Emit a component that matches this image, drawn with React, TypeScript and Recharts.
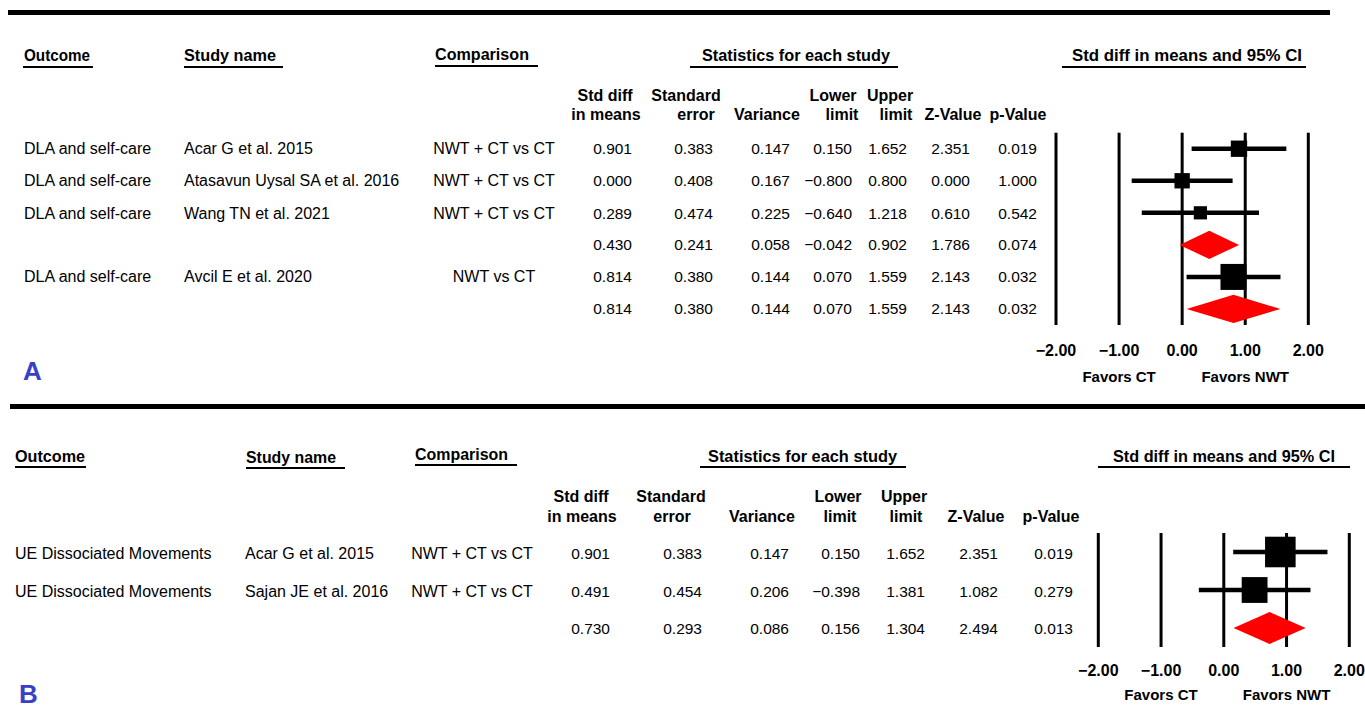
import React from 'react';
import {
  ScatterChart,
  Scatter,
  ErrorBar,
  XAxis,
  YAxis,
  ZAxis,
  ReferenceArea,
} from 'recharts';

// ---- panel A: DLA and self-care ----
const outcomesA = ['DLA and self-care', 'DLA and self-care', 'DLA and self-care', '', 'DLA and self-care', ''];
const studiesA = ['Acar G et al. 2015', 'Atasavun Uysal SA et al. 2016', 'Wang TN et al. 2021', '', 'Avcil E et al. 2020', ''];
const comparisonsA = ['NWT + CT vs CT', 'NWT + CT vs CT', 'NWT + CT vs CT', '', 'NWT vs CT', ''];
const stdDiffA = [0.901, 0.0, 0.289, 0.43, 0.814, 0.814];
const stdErrA = [0.383, 0.408, 0.474, 0.241, 0.38, 0.38];
const varianceA = [0.147, 0.167, 0.225, 0.058, 0.144, 0.144];
const lowerA = [0.15, -0.8, -0.64, -0.042, 0.07, 0.07];
const upperA = [1.652, 0.8, 1.218, 0.902, 1.559, 1.559];
const zValueA = [2.351, 0.0, 0.61, 1.786, 2.143, 2.143];
const pValueA = [0.019, 1.0, 0.542, 0.074, 0.032, 0.032];
const summaryA = [false, false, false, true, false, true];

// ---- panel B: UE dissociated movements ----
const outcomesB = ['UE Dissociated Movements', 'UE Dissociated Movements', ''];
const studiesB = ['Acar G et al. 2015', 'Sajan JE et al. 2016', ''];
const comparisonsB = ['NWT + CT vs CT', 'NWT + CT vs CT', ''];
const stdDiffB = [0.901, 0.491, 0.73];
const stdErrB = [0.383, 0.454, 0.293];
const varianceB = [0.147, 0.206, 0.086];
const lowerB = [0.15, -0.398, 0.156];
const upperB = [1.652, 1.381, 1.304];
const zValueB = [2.351, 1.082, 2.494];
const pValueB = [0.019, 0.279, 0.013];
const summaryB = [false, false, true];

// ---- labels ----
const sectionTitles = ['Outcome', 'Study name', 'Comparison', 'Statistics for each study', 'Std diff in means and 95% CI'];
const colHeadTop = ['Std diff', 'Standard', '', 'Lower', 'Upper', '', ''];
const colHeadBottom = ['in means', 'error', 'Variance', 'limit', 'limit', 'Z-Value', 'p-Value'];
const axisTicks = [-2, -1, 0, 1, 2];
const favorTicks = [-1, 1];
const favorLabels = ['Favors CT', 'Favors NWT'];

const FONT = '"Liberation Sans", Arial, Helvetica, sans-serif';
const LETTER_BLUE = '#3a3fc8';

const fmt = (v: number) => (v < 0 ? '\u2212' + Math.abs(v).toFixed(3) : v.toFixed(3));
const fmtTick = (v: number) => (v < 0 ? '\u2212' + Math.abs(v).toFixed(2) : v.toFixed(2));

// weights of studies inside each subgroup (inverse variance), in %
function groupWeights(variances: number[], summary: boolean[]) {
  const w: number[] = variances.map(() => 0);
  let group: number[] = [];
  variances.forEach((v, i) => {
    if (summary[i]) {
      const total = group.reduce((s, j) => s + 1 / variances[j], 0);
      group.forEach((j) => (w[j] = (100 * (1 / variances[j])) / total));
      group = [];
    } else {
      group.push(i);
    }
  });
  return w;
}

const renderBox = (props: any) => {
  const { cx, cy, width } = props;
  return <rect x={cx - width / 2} y={cy - width / 2} width={width} height={width} fill="#000" />;
};

const renderDiamond = (props: any) => {
  const { x, y, width, height } = props;
  const cx = x + width / 2;
  const cy = y + height / 2;
  return (
    <polygon
      points={`${x},${cy} ${cx},${y} ${x + width},${cy} ${cx},${y + height}`}
      fill="#ff0000"
      stroke="none"
    />
  );
};

// vertical grid line drawn from a zero-width reference area, so it sits under the diamonds
const renderVLine = (props: any) => {
  const { x, y, height } = props;
  return <line x1={x} x2={x} y1={y} y2={y + height} stroke="#000" strokeWidth={3} />;
};

type ChartCfg = {
  left: number;
  top: number;
  width: number;
  height: number;
  margin: { top: number; right: number; left: number; bottom: number };
  axisH: number;
  numY: number;
  favY: number;
  half: number;
  maxArea: number;
};

function Forest(props: {
  means: number[];
  lowers: number[];
  uppers: number[];
  variances: number[];
  summary: boolean[];
  cfg: ChartCfg;
}) {
  const { means, lowers, uppers, variances, summary, cfg } = props;
  const weights = groupWeights(variances, summary);
  const points = means
    .map((m, i) => ({ row: i + 1, mean: m, weight: weights[i], ci: [m - lowers[i], uppers[i] - m], s: summary[i] }))
    .filter((p) => !p.s);
  const diamonds = means
    .map((m, i) => ({ row: i + 1, lower: lowers[i], upper: uppers[i], s: summary[i] }))
    .filter((d) => d.s);

  const Tick = (tp: any) => {
    const { x, y, payload } = tp;
    const fi = favorTicks.indexOf(payload.value);
    return (
      <g>
        <text x={x} y={y + cfg.numY} textAnchor="middle" fontFamily={FONT} fontWeight="bold" fontSize={16} fill="#000">
          {fmtTick(payload.value)}
        </text>
        {fi >= 0 && (
          <text x={x} y={y + cfg.favY} textAnchor="middle" fontFamily={FONT} fontWeight="bold" fontSize={15} fill="#000">
            {favorLabels[fi]}
          </text>
        )}
      </g>
    );
  };

  return (
    <div style={{ position: 'absolute', left: cfg.left, top: cfg.top }}>
      <ScatterChart width={cfg.width} height={cfg.height} margin={cfg.margin}>
        <XAxis
          type="number"
          dataKey="mean"
          domain={[-2, 2]}
          ticks={axisTicks}
          interval={0}
          axisLine={false}
          tickLine={false}
          tickSize={0}
          tickMargin={0}
          height={cfg.axisH}
          tick={Tick}
        />
        <YAxis type="number" dataKey="row" domain={[0.5, means.length + 0.5]} reversed hide />
        <ZAxis type="number" dataKey="weight" domain={[0, 100]} range={[0, cfg.maxArea]} />
        {axisTicks.map((t) => (
          <ReferenceArea key={'v' + t} x1={t} x2={t} shape={renderVLine} ifOverflow="visible" />
        ))}
        {diamonds.map((d) => (
          <ReferenceArea
            key={'d' + d.row}
            x1={d.lower}
            x2={d.upper}
            y1={d.row - cfg.half}
            y2={d.row + cfg.half}
            shape={renderDiamond}
            fill="#ff0000"
            fillOpacity={1}
            ifOverflow="visible"
          />
        ))}
        <Scatter data={points} shape={renderBox} isAnimationActive={false}>
          <ErrorBar dataKey="ci" direction="x" width={0} stroke="#000" strokeWidth={4.5} />
        </Scatter>
      </ScatterChart>
    </div>
  );
}

type TableLayout = {
  rule: { x1: number; x2: number; y: number };
  heads: { x: number; y: number; len: number; ux1: number; ux2: number; uy: number }[];
  headTopY: number;
  headBottomY: number;
  headTopX: number[];
  headBottomX: number[];
  rowY: number[];
  outcomeX: number;
  studyX: number;
  compX: number;
  valueX: number[];
  letter: string;
  letterX: number;
  letterY: number;
};

function TableText(props: {
  layout: TableLayout;
  outcomes: string[];
  studies: string[];
  comparisons: string[];
  columns: number[][];
}) {
  const { layout: L, outcomes, studies, comparisons, columns } = props;
  return (
    <g fontFamily={FONT} fill="#000">
      <line x1={L.rule.x1} x2={L.rule.x2} y1={L.rule.y} y2={L.rule.y} stroke="#000" strokeWidth={5} />
      {L.heads.map((h, i) => (
        <g key={i}>
          <text x={h.x} y={h.y} fontWeight="bold" fontSize={17} textLength={h.len} lengthAdjust="spacingAndGlyphs">
            {sectionTitles[i]}
          </text>
          <line x1={h.ux1} x2={h.ux2} y1={h.uy} y2={h.uy} stroke="#000" strokeWidth={2} />
        </g>
      ))}
      {colHeadTop.map((t, i) => (
        <text key={'t' + i} x={L.headTopX[i]} y={L.headTopY} textAnchor="middle" fontWeight="bold" fontSize={16}>
          {t}
        </text>
      ))}
      {colHeadBottom.map((t, i) => (
        <text key={'b' + i} x={L.headBottomX[i]} y={L.headBottomY} textAnchor="middle" fontWeight="bold" fontSize={16}>
          {t}
        </text>
      ))}
      {L.rowY.map((y, r) => (
        <g key={r}>
          <text x={L.outcomeX} y={y} fontSize={16}>
            {outcomes[r]}
          </text>
          <text x={L.studyX} y={y} fontSize={16}>
            {studies[r]}
          </text>
          <text x={L.compX} y={y} fontSize={16} textAnchor="middle">
            {comparisons[r]}
          </text>
          {columns.map((col, c) => (
            <text key={c} x={L.valueX[c]} y={y} fontSize={15.5} textAnchor="end">
              {fmt(col[r])}
            </text>
          ))}
        </g>
      ))}
      <text x={L.letterX} y={L.letterY} fontSize={26} fontWeight="bold" fill={LETTER_BLUE}>
        {L.letter}
      </text>
    </g>
  );
}

const layoutA: TableLayout = {
  rule: { x1: 8, x2: 1330, y: 12.5 },
  heads: [
    { x: 24, y: 61, len: 66, ux1: 23, ux2: 93, uy: 67 },
    { x: 184, y: 61, len: 92, ux1: 184, ux2: 283, uy: 67 },
    { x: 435, y: 60, len: 94, ux1: 435, ux2: 538, uy: 66 },
    { x: 702, y: 61, len: 188, ux1: 690, ux2: 898, uy: 67 },
    { x: 1072, y: 61, len: 230, ux1: 1062, ux2: 1306, uy: 67 },
  ],
  headTopY: 101,
  headBottomY: 120,
  headTopX: [605, 686, 767, 833, 890, 953, 1018],
  headBottomX: [606, 696, 767, 842, 896, 953, 1018],
  rowY: [153.5, 185.5, 218.5, 249.5, 281.5, 313.5],
  outcomeX: 24,
  studyX: 184,
  compX: 494,
  valueX: [632, 713, 790, 852, 907, 970, 1037],
  letter: 'A',
  letterX: 23,
  letterY: 380,
};

const layoutB: TableLayout = {
  rule: { x1: 10, x2: 1365, y: 406.5 },
  heads: [
    { x: 15, y: 462, len: 70, ux1: 15, ux2: 86, uy: 467 },
    { x: 246, y: 463, len: 90, ux1: 246, ux2: 345, uy: 468 },
    { x: 415, y: 460, len: 93, ux1: 415, ux2: 517, uy: 465 },
    { x: 708, y: 462, len: 189, ux1: 700, ux2: 906, uy: 467 },
    { x: 1113, y: 462, len: 222, ux1: 1098, ux2: 1350, uy: 467 },
  ],
  headTopY: 502,
  headBottomY: 522,
  headTopX: [581, 671, 762, 838, 904, 976, 1051],
  headBottomX: [582, 672, 762, 840, 906, 976, 1051],
  rowY: [558.5, 596.5, 633.5],
  outcomeX: 15,
  studyX: 245,
  compX: 472,
  valueX: [610, 702, 789, 860, 925, 998, 1073],
  letter: 'B',
  letterX: 19,
  letterY: 703,
};

const chartA: ChartCfg = {
  left: 1020,
  top: 110,
  width: 330,
  height: 300,
  margin: { top: 22.7, right: 41.7, left: 36, bottom: 0 },
  axisH: 85,
  numY: 31,
  favY: 57,
  half: 0.44,
  maxArea: 531,
};

const chartB: ChartCfg = {
  left: 1060,
  top: 505,
  width: 305,
  height: 213,
  margin: { top: 28, right: 15.7, left: 38.3, bottom: 0 },
  axisH: 71,
  numY: 29,
  favY: 53,
  half: 0.42,
  maxArea: 1257,
};

export default function App() {
  return (
    <div
      style={{
        position: 'absolute',
        left: 0,
        top: 0,
        width: 1365,
        height: 718,
        overflow: 'hidden',
        background: '#fff',
      }}
    >
      <svg width={1365} height={718} style={{ position: 'absolute', left: 0, top: 0 }}>
        <TableText
          layout={layoutA}
          outcomes={outcomesA}
          studies={studiesA}
          comparisons={comparisonsA}
          columns={[stdDiffA, stdErrA, varianceA, lowerA, upperA, zValueA, pValueA]}
        />
        <TableText
          layout={layoutB}
          outcomes={outcomesB}
          studies={studiesB}
          comparisons={comparisonsB}
          columns={[stdDiffB, stdErrB, varianceB, lowerB, upperB, zValueB, pValueB]}
        />
      </svg>
      <Forest means={stdDiffA} lowers={lowerA} uppers={upperA} variances={varianceA} summary={summaryA} cfg={chartA} />
      <Forest means={stdDiffB} lowers={lowerB} uppers={upperB} variances={varianceB} summary={summaryB} cfg={chartB} />
    </div>
  );
}
